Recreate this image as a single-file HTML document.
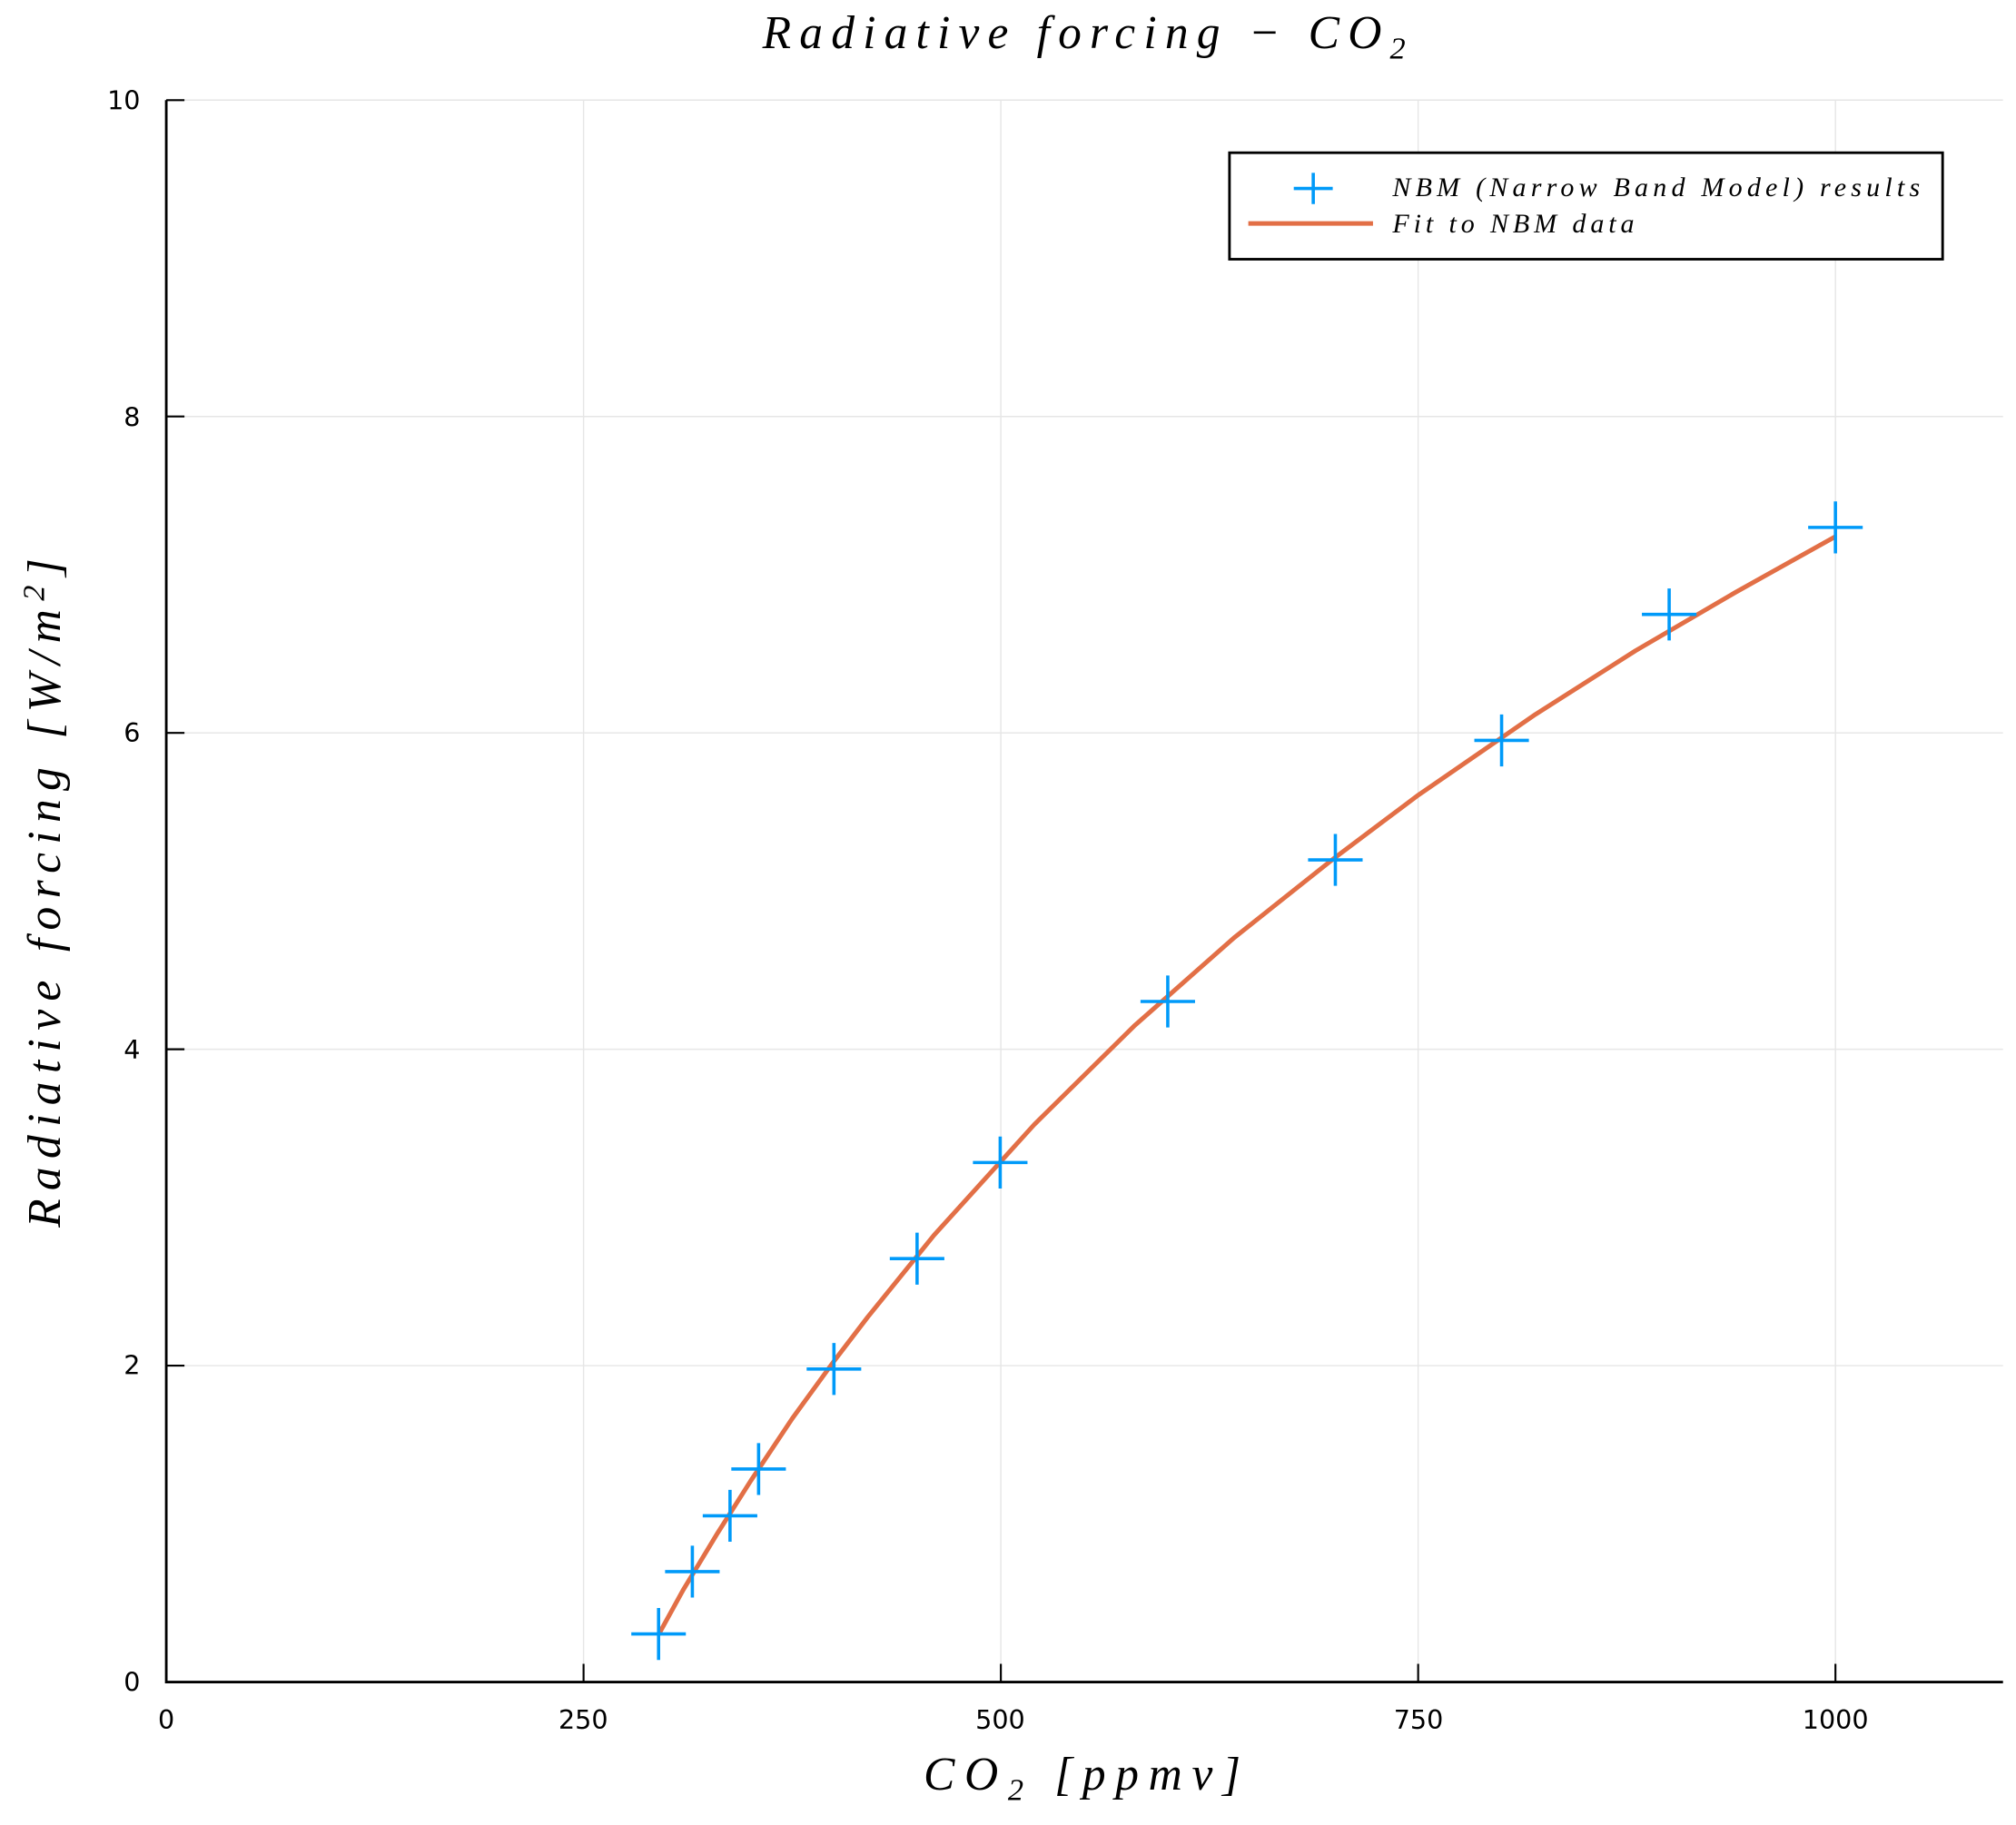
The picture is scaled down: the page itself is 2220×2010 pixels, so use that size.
<!DOCTYPE html>
<html><head><meta charset="utf-8"><style>html,body{margin:0;padding:0;background:#fff}svg{display:block}</style></head>
<body>
<svg width="2220" height="2010" viewBox="0 0 1552 1405" xmlns="http://www.w3.org/2000/svg">
<rect width="1552" height="1405" fill="#fff"/>
<g stroke="#e6e6e6" stroke-width="1">
<line x1="449.25" y1="77" x2="449.25" y2="1295"/>
<line x1="770.5" y1="77" x2="770.5" y2="1295"/>
<line x1="1091.75" y1="77" x2="1091.75" y2="1295"/>
<line x1="1413" y1="77" x2="1413" y2="1295"/>
<line x1="128" y1="1051.4" x2="1542" y2="1051.4"/>
<line x1="128" y1="807.8" x2="1542" y2="807.8"/>
<line x1="128" y1="564.2" x2="1542" y2="564.2"/>
<line x1="128" y1="320.6" x2="1542" y2="320.6"/>
<line x1="128" y1="77" x2="1542" y2="77"/>
</g>
<g stroke="#000" stroke-width="2">
<line x1="128" y1="1295" x2="1542" y2="1295"/>
<line x1="128" y1="77" x2="128" y2="1296"/>
</g>
<g stroke="#000" stroke-width="1.5">
<line x1="449.25" y1="1295" x2="449.25" y2="1281"/>
<line x1="770.5" y1="1295" x2="770.5" y2="1281"/>
<line x1="1091.75" y1="1295" x2="1091.75" y2="1281"/>
<line x1="1413" y1="1295" x2="1413" y2="1281"/>
<line x1="128" y1="1051.4" x2="142" y2="1051.4"/>
<line x1="128" y1="807.8" x2="142" y2="807.8"/>
<line x1="128" y1="564.2" x2="142" y2="564.2"/>
<line x1="128" y1="320.6" x2="142" y2="320.6"/>
<line x1="128" y1="77" x2="142" y2="77"/>
</g>
<g font-family="DejaVu Sans, Liberation Sans, sans-serif" font-size="20" fill="#000">
<g text-anchor="middle">
<text x="128" y="1331">0</text><text x="449" y="1331">250</text><text x="770" y="1331">500</text><text x="1092" y="1331">750</text><text x="1413" y="1331">1000</text>
</g>
<g text-anchor="end">
<text x="108" y="1302">0</text><text x="108" y="1058">2</text><text x="108" y="815">4</text><text x="108" y="571">6</text><text x="108" y="328">8</text><text x="108" y="84">10</text>
</g>
</g>
<g font-family="Liberation Serif, serif" font-style="italic" fill="#000">
<text x="587" y="37" font-size="36" textLength="495" lengthAdjust="spacing">Radiative forcing − CO<tspan font-size="24" dy="8">2</tspan></text>
<text x="711" y="1378" font-size="36" textLength="244" lengthAdjust="spacing">CO<tspan font-size="24" dy="8">2</tspan><tspan dy="-8">  [ppmv]</tspan></text>
<text transform="translate(46,945) rotate(-90)" font-size="36" textLength="515" lengthAdjust="spacing">Radiative forcing  [W/m<tspan font-size="24" dy="-12">2</tspan><tspan dy="12">]</tspan></text>
</g>
<polyline fill="none" stroke="#e26f46" stroke-width="3.5" stroke-linejoin="round" points="507,1258.5 526,1224 552,1181 578,1140 610,1092 642,1048 668,1014 719,951 796,866 873,790 950,722 1028,660 1092,612 1182,550 1259,501 1336,456 1413,413"/>
<g stroke="#009af9" stroke-width="2.5" fill="none">
<path d="M486,1258h42M507,1238v40"/>
<path d="M512,1210h42M533,1190v40"/>
<path d="M541,1167h42M562,1147v40"/>
<path d="M563,1131h42M584,1111v40"/>
<path d="M621,1054h42M642,1034v40"/>
<path d="M685,969h42M706,949v40"/>
<path d="M749,895h42M770,875v40"/>
<path d="M878,771h42M899,751v40"/>
<path d="M1007,662h42M1028,642v40"/>
<path d="M1135,570h42M1156,550v40"/>
<path d="M1264,473h42M1285,453v40"/>
<path d="M1392,406h42M1413,386v40"/>
</g>
<rect x="946.5" y="117.5" width="549" height="82" fill="#fff" stroke="#000" stroke-width="2"/>
<path d="M996,145h30M1011,133v24" stroke="#009af9" stroke-width="2.5"/>
<line x1="961" y1="172" x2="1057" y2="172" stroke="#e26f46" stroke-width="3.5"/>
<g font-family="Liberation Serif, serif" font-style="italic" font-size="21" fill="#000">
<text x="1072" y="151" textLength="406" lengthAdjust="spacing">NBM (Narrow Band Model) results</text>
<text x="1072" y="179" textLength="186" lengthAdjust="spacing">Fit to NBM data</text>
</g>
</svg>
</body></html>
